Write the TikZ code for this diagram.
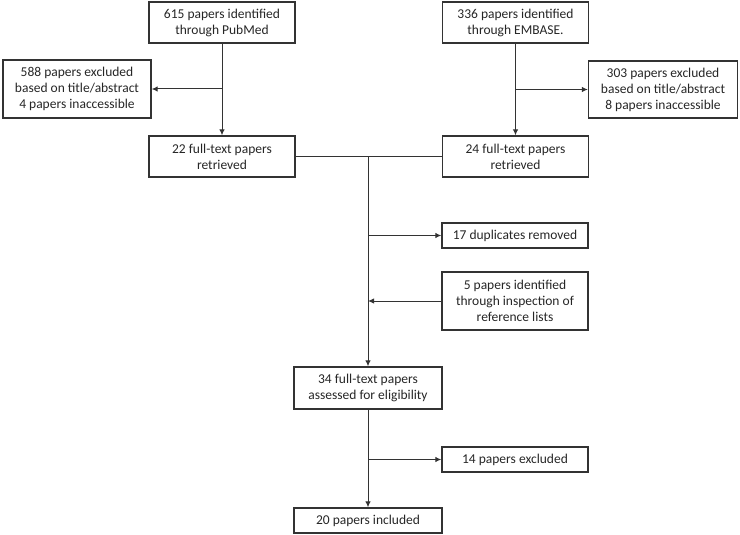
\documentclass[tikz,border=0pt]{standalone}
\usepackage{fontspec}
\setmainfont{Carlito}
\usetikzlibrary{arrows.meta}

\begin{document}
\begin{tikzpicture}[x=1pt,y=-1pt,
		line width=1pt,draw=black!80,>={Latex[length=6pt,width=5.5pt]},
		box/.style = {rectangle,draw,line width=1.3pt,align=center,inner sep=0pt,
			font=\fontsize{13.5}{16}\selectfont,text=black!85,minimum height=41pt,minimum width=146pt}]
		
		\useasboundingbox (0,0) rectangle (740,535);
		
		\node[box] (pubmed) at (222,22.5) {615 papers identified\\through PubMed};
		\node[box] (embase) at (515.5,22.5) {336 papers identified\\through EMBASE.};
		\node[box,minimum width=148pt,minimum height=58pt] (exclA) at (77,89) {588 papers excluded\\based on title/abstract\\4 papers inaccessible};
		\node[box,minimum width=149pt,minimum height=57pt] (exclB) at (663,89.5) {303 papers excluded\\based on title/abstract\\8 papers inaccessible};
		\node[box] (ft22) at (222,156.5) {22 full-text papers\\retrieved};
		\node[box] (ft24) at (515.5,156.5) {24 full-text papers\\retrieved};
		\node[box,minimum height=25pt] (dup) at (515,235.5) {17 duplicates removed};
		\node[box,minimum height=58pt] (refl) at (515,301) {5 papers identified\\through inspection of\\reference lists};
		\node[box,minimum width=148pt,minimum height=42pt] (ft34) at (368,388) {34 full-text papers\\assessed for eligibility};
		\node[box,minimum height=25pt] (excl14) at (515,459.5) {14 papers excluded};
		\node[box,minimum width=148pt,minimum height=25pt] (incl) at (368,520.5) {20 papers included};
		
		\coordinate (bA) at (pubmed.south |- exclA.east);
		\coordinate (bB) at (embase.south |- exclB.west);
		\coordinate (merge) at (368,156.5);
		\coordinate (bDup) at (merge |- dup.west);
		\coordinate (bRef) at (merge |- refl.west);
		\coordinate (bExc) at (merge |- excl14.west);
		
		\draw[->] (pubmed) -- (ft22);
		\draw[->] (bA) -- (exclA);
		\draw[->] (embase) -- (ft24);
		\draw[->] (bB) -- (exclB);
		\draw (ft22) -- (ft24);
		\draw[->] (merge) -- (ft34);
		\draw[->] (bDup) -- (dup);
		\draw[->] (refl) -- (bRef);
		\draw[->] (ft34) -- (incl);
		\draw[->] (bExc) -- (excl14);
		\end{tikzpicture}
\end{document}
